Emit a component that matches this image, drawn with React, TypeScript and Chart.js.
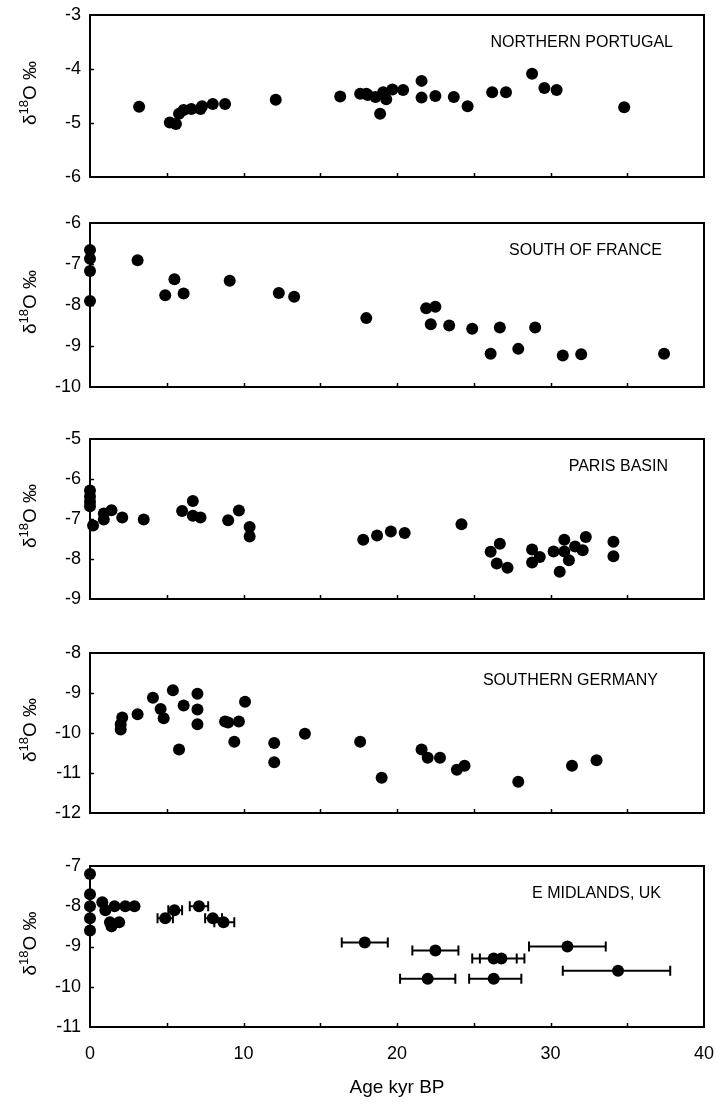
import React, { useEffect, useRef } from "react";
import { Chart, registerables } from "chart.js";

Chart.register(...registerables);

const FONT = "'Liberation Sans', Arial, Helvetica, sans-serif";

// ---------- DATA ----------
const xTickValues = [0, 10, 20, 30, 40];

const portugalAge = [3.2, 5.2, 5.6, 5.8, 6.1, 6.6, 7.2, 7.3, 8.0, 8.8, 12.1, 16.3, 17.6, 18.0, 18.1, 18.6, 18.9, 19.1, 19.3, 19.7, 20.4, 21.6, 21.6, 22.5, 23.7, 24.6, 26.2, 27.1, 28.8, 29.6, 30.4, 34.8];
const portugalD18O = [-4.7, -4.99, -5.02, -4.83, -4.76, -4.74, -4.74, -4.69, -4.65, -4.65, -4.57, -4.51, -4.46, -4.46, -4.48, -4.52, -4.83, -4.43, -4.56, -4.38, -4.39, -4.22, -4.53, -4.5, -4.52, -4.69, -4.43, -4.43, -4.09, -4.35, -4.39, -4.71];

const franceAge = [0, 0, 0, 0, 3.1, 4.9, 5.5, 6.1, 9.1, 12.3, 13.3, 18.0, 21.9, 22.2, 22.5, 23.4, 24.9, 26.1, 26.7, 27.9, 29.0, 30.8, 32.0, 37.4];
const franceD18O = [-6.66, -6.87, -7.17, -7.9, -6.91, -7.76, -7.37, -7.72, -7.41, -7.71, -7.8, -8.32, -8.08, -8.47, -8.04, -8.5, -8.58, -9.19, -8.55, -9.07, -8.55, -9.23, -9.2, -9.19];

const parisAge = [0, 0, 0, 0, 0.2, 0.9, 0.9, 1.4, 2.1, 3.5, 6.0, 6.7, 6.7, 7.2, 9.0, 9.7, 10.4, 10.4, 17.8, 18.7, 19.6, 20.5, 24.2, 26.1, 26.5, 26.7, 27.2, 28.8, 28.8, 29.3, 30.2, 30.6, 30.9, 30.9, 31.2, 31.6, 32.1, 32.3, 34.1, 34.1];
const parisD18O = [-6.29, -6.44, -6.57, -6.68, -7.16, -6.86, -7.01, -6.78, -6.96, -7.01, -6.8, -6.55, -6.92, -6.96, -7.03, -6.79, -7.2, -7.44, -7.52, -7.41, -7.31, -7.35, -7.13, -7.82, -8.11, -7.62, -8.22, -7.76, -8.09, -7.95, -7.81, -8.32, -7.52, -7.81, -8.03, -7.69, -7.78, -7.45, -7.57, -7.93];

const germanyAge = [2.0, 2.0, 2.1, 3.1, 4.1, 4.6, 4.8, 5.4, 5.8, 6.1, 7.0, 7.0, 7.0, 8.8, 9.0, 9.4, 9.7, 10.1, 12.0, 12.0, 14.0, 17.6, 19.0, 21.6, 22.0, 22.8, 23.9, 24.4, 27.9, 31.4, 33.0];
const germanyD18O = [-9.78, -9.91, -9.61, -9.53, -9.12, -9.4, -9.63, -8.93, -10.41, -9.31, -9.02, -9.41, -9.78, -9.71, -9.74, -10.22, -9.71, -9.22, -10.25, -10.73, -10.02, -10.22, -11.12, -10.41, -10.62, -10.62, -10.92, -10.82, -11.22, -10.82, -10.68];

const midlandsAge = [0, 0, 0, 0, 0, 0.8, 1.0, 1.3, 1.4, 1.6, 1.9, 2.3, 2.9, 4.9, 5.5, 7.1, 8.0, 8.7, 17.9, 22.5, 22.0, 26.3, 26.8, 26.3, 31.1, 34.4];
const midlandsD18O = [-7.2, -7.7, -8.0, -8.3, -8.6, -7.9, -8.1, -8.4, -8.5, -8.0, -8.4, -8.0, -8.0, -8.3, -8.1, -8.0, -8.3, -8.4, -8.9, -9.1, -9.8, -9.3, -9.3, -9.8, -9.0, -9.6];
const midlandsAgeLow = [null, null, null, null, null, null, null, null, null, null, null, null, null, 4.4, 5.1, 6.5, 7.5, 8.1, 16.4, 21.0, 20.2, 24.9, 25.4, 24.7, 28.6, 30.8];
const midlandsAgeHigh = [null, null, null, null, null, null, null, null, null, null, null, null, null, 5.4, 6.0, 7.7, 8.6, 9.4, 19.4, 24.0, 23.8, 27.8, 28.3, 28.1, 33.6, 37.8];

// ---------- PANELS ----------
type PanelCfg = {
  label: string;
  ages: number[];
  values: number[];
  low?: (number | null)[];
  high?: (number | null)[];
  yMin: number;
  yMax: number;
  canvasTop: number;
  plotHeight: number;
  bottomExtra: number;
  labelRight: number;
  showX: boolean;
};

const panels: PanelCfg[] = [
  { label: "NORTHERN PORTUGAL", ages: portugalAge, values: portugalD18O, yMin: -6, yMax: -3, canvasTop: 0, plotHeight: 162, bottomExtra: 20, labelRight: 31, showX: false },
  { label: "SOUTH OF FRANCE", ages: franceAge, values: franceD18O, yMin: -10, yMax: -6, canvasTop: 208, plotHeight: 164, bottomExtra: 20, labelRight: 42, showX: false },
  { label: "PARIS BASIN", ages: parisAge, values: parisD18O, yMin: -9, yMax: -5, canvasTop: 424, plotHeight: 160, bottomExtra: 20, labelRight: 36, showX: false },
  { label: "SOUTHERN GERMANY", ages: germanyAge, values: germanyD18O, yMin: -12, yMax: -8, canvasTop: 638, plotHeight: 160, bottomExtra: 20, labelRight: 46, showX: false },
  { label: "E MIDLANDS, UK", ages: midlandsAge, values: midlandsD18O, low: midlandsAgeLow, high: midlandsAgeHigh, yMin: -11, yMax: -7, canvasTop: 851, plotHeight: 161, bottomExtra: 77, labelRight: 43, showX: true },
];

const TOP_PAD = 15;
const LEFT_W = 90;
const RIGHT_PAD = 12;

function makePlugin(cfg: PanelCfg) {
  return {
    id: "panelDecor",
    beforeDatasetsDraw(chart: any) {
      const { ctx, chartArea } = chart;
      const xs = chart.scales.x;
      const ys = chart.scales.y;
      ctx.save();
      ctx.strokeStyle = "#000";
      ctx.lineWidth = 2;
      ctx.strokeRect(chartArea.left, chartArea.top, chartArea.right - chartArea.left, chartArea.bottom - chartArea.top);
      ctx.lineWidth = 1.5;
      ctx.beginPath();
      for (let v = 5; v < 40; v += 5) {
        const px = Math.round(xs.getPixelForValue(v)) + 0.5;
        ctx.moveTo(px, chartArea.bottom);
        ctx.lineTo(px, chartArea.bottom - 4);
      }
      for (let v = cfg.yMin + 1; v < cfg.yMax; v += 1) {
        const py = Math.round(ys.getPixelForValue(v)) + 0.5;
        ctx.moveTo(chartArea.left, py);
        ctx.lineTo(chartArea.left + 4, py);
      }
      ctx.stroke();
      if (cfg.low && cfg.high) {
        ctx.lineWidth = 2;
        ctx.beginPath();
        cfg.ages.forEach((_, i) => {
          const lo = cfg.low![i];
          const hi = cfg.high![i];
          if (lo == null || hi == null) return;
          const py = ys.getPixelForValue(cfg.values[i]);
          const x1 = xs.getPixelForValue(lo);
          const x2 = xs.getPixelForValue(hi);
          ctx.moveTo(x1, py);
          ctx.lineTo(x2, py);
          ctx.moveTo(x1, py - 5);
          ctx.lineTo(x1, py + 5);
          ctx.moveTo(x2, py - 5);
          ctx.lineTo(x2, py + 5);
        });
        ctx.stroke();
      }
      ctx.restore();
    },
    afterDraw(chart: any) {
      const { ctx, chartArea } = chart;
      ctx.save();
      ctx.fillStyle = "#000";
      ctx.font = `16px ${FONT}`;
      ctx.textAlign = "right";
      ctx.textBaseline = "middle";
      ctx.fillText(cfg.label, chartArea.right - cfg.labelRight, chartArea.top + 28);
      const cy = (chartArea.top + chartArea.bottom) / 2 - 3;
      ctx.translate(29, cy);
      ctx.rotate(-Math.PI / 2);
      ctx.textAlign = "left";
      ctx.textBaseline = "alphabetic";
      const mainFont = `19px ${FONT}`;
      const supFont = `13px ${FONT}`;
      ctx.font = mainFont;
      const w1 = ctx.measureText("δ").width;
      const w3 = ctx.measureText("O ‰").width;
      ctx.font = supFont;
      const w2 = ctx.measureText("18").width;
      const total = w1 + w2 + w3;
      let x = -total / 2;
      const base = 7;
      ctx.font = mainFont;
      ctx.fillText("δ", x, base);
      x += w1;
      ctx.font = supFont;
      ctx.fillText("18", x, base - 8);
      x += w2;
      ctx.font = mainFont;
      ctx.fillText("O ‰", x, base);
      ctx.restore();
    },
  };
}

function Panel({ cfg }: { cfg: PanelCfg }) {
  const ref = useRef<HTMLCanvasElement>(null);
  const height = TOP_PAD + cfg.plotHeight + cfg.bottomExtra;
  useEffect(() => {
    const canvas = ref.current;
    if (!canvas) return;
    const chart = new Chart(canvas, {
      type: "scatter",
      data: {
        datasets: [
          {
            data: cfg.ages.map((a, i) => ({ x: a, y: cfg.values[i] })),
            backgroundColor: "#000",
            borderColor: "#000",
            borderWidth: 0,
            pointRadius: 6,
            pointHoverRadius: 6,
            clip: false as any,
          },
        ],
      },
      options: {
        responsive: false,
        maintainAspectRatio: false,
        animation: false,
        events: [],
        layout: { padding: { top: TOP_PAD, right: RIGHT_PAD, left: 0, bottom: 0 } },
        plugins: { legend: { display: false }, tooltip: { enabled: false } },
        scales: {
          x: {
            type: "linear",
            min: 0,
            max: 40,
            display: cfg.showX,
            afterBuildTicks: (s: any) => {
              s.ticks = xTickValues.map((v) => ({ value: v }));
            },
            afterFit: (s: any) => {
              s.height = cfg.bottomExtra;
              s.paddingLeft = 0;
              s.paddingRight = 0;
            },
            grid: { display: false, drawTicks: false },
            border: { display: false },
            ticks: {
              color: "#000",
              font: { family: FONT, size: 18 },
              padding: 16,
              maxRotation: 0,
              autoSkip: false,
            },
            title: {
              display: true,
              text: "Age kyr BP",
              color: "#000",
              font: { family: FONT, size: 19 },
              padding: { top: 0, bottom: 5 },
            },
          },
          y: {
            type: "linear",
            min: cfg.yMin,
            max: cfg.yMax,
            afterFit: (s: any) => {
              s.width = LEFT_W;
              s.paddingTop = 0;
              s.paddingBottom = 0;
            },
            grid: { display: false, drawTicks: false },
            border: { display: false },
            ticks: {
              stepSize: 1,
              color: "#000",
              font: { family: FONT, size: 18 },
              padding: 9,
            },
          },
        },
      },
      plugins: [makePlugin(cfg)],
    } as any);
    return () => chart.destroy();
  }, [cfg]);
  return (
    <canvas
      ref={ref}
      width={716}
      height={height}
      style={{ position: "absolute", left: 0, top: cfg.canvasTop, width: 716, height }}
    />
  );
}

export default function App() {
  return (
    <div style={{ position: "absolute", left: 0, top: 0, width: 716, height: 1104, background: "#fff", overflow: "hidden" }}>
      {panels.map((p) => (
        <Panel key={p.label} cfg={p} />
      ))}
    </div>
  );
}
